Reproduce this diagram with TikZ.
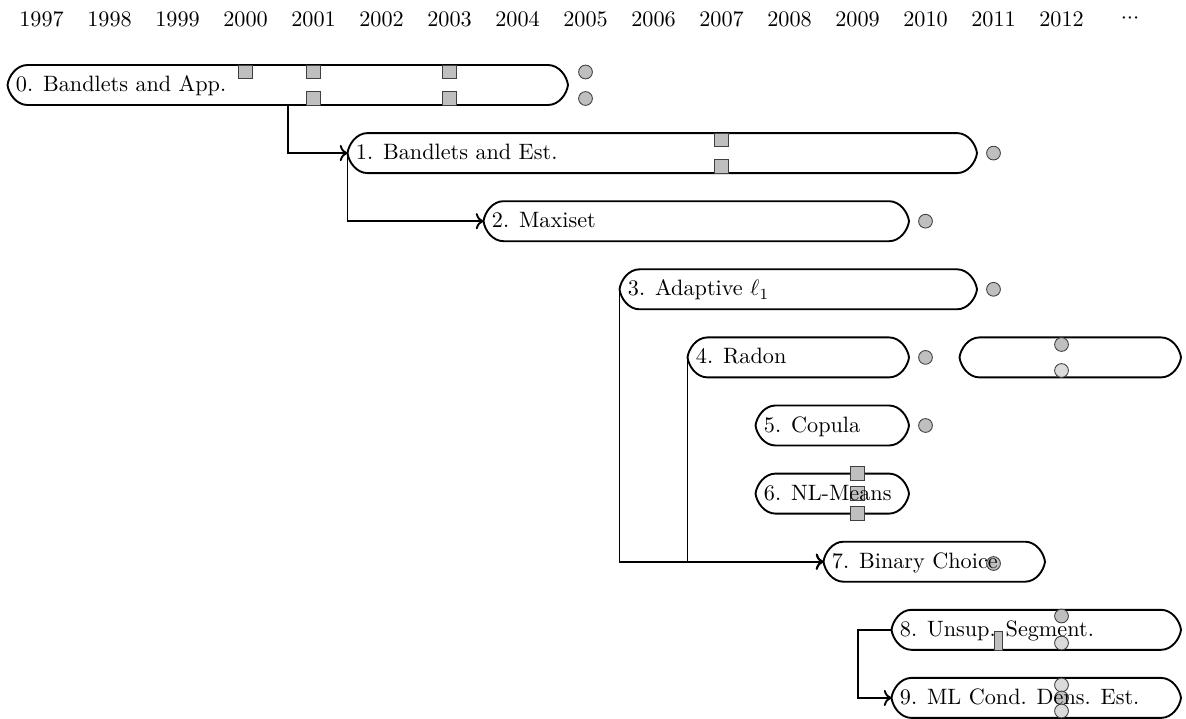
\documentclass[tikz,border=0pt]{standalone}
\usetikzlibrary{arrows.meta}
\newcommand\mkbar[4]{%
  \coordinate (#1w) at (#2,#4);
  \coordinate (#1e) at (#3,#4);
  \draw[barline] (#2+20,#4-20) -- (#3-20,#4-20)
    .. controls +(11,0) and +(-1.2,-9) .. (#3,#4)
    .. controls +(-1.2,9) and +(11,0) .. (#3-20,#4+20)
    -- (#2+20,#4+20)
    .. controls +(-11,0) and +(1.2,9) .. (#2,#4)
    .. controls +(1.2,-9) and +(-11,0) .. (#2+20,#4-20) -- cycle;
}
\begin{document}
\begin{tikzpicture}[x=0.45pt,y=-0.45pt,
  barline/.style={line width=0.85pt, line join=round},
  conn/.style={line width=0.85pt,->},
  sq/.style={rectangle, draw=black!75, fill=gray!50, line width=0.4pt, minimum size=6pt, inner sep=0pt},
  thinrect/.style={rectangle, draw=black!75, fill=gray!50, line width=0.4pt, minimum width=3.6pt, minimum height=8.5pt, inner sep=0pt},
  dot/.style={circle, draw=black!75, fill=gray!50, line width=0.4pt, minimum size=6.2pt, inner sep=0pt},
  ldot/.style={dot, fill=gray!28},
  lbl/.style={anchor=base west, inner sep=0pt},
  yr/.style={anchor=base, inner sep=0pt}]
\useasboundingbox (0,0) rectangle (1186,718);

% years
\foreach \yy [count=\k from 0] in {1997,1998,1999,2000,2001,2002,2003,2004,2005,2006,2007,2008,2009,2010,2011,2012}
  \node[yr] (y\yy) at ({41.5+68*\k},26.5) {\yy};
\node[yr] (ydots) at (1130,26.5) {\raisebox{1.4pt}{${\cdot}{\cdot}{\cdot}$}};

% bars
\mkbar{b0}{7.5}{568}{85}
\mkbar{b1}{347.5}{977}{153.1}
\mkbar{b2}{483.5}{909}{221.2}
\mkbar{b3}{619.5}{977}{289.3}
\mkbar{b4}{687.5}{909}{357.4}
\mkbar{bx}{959.5}{1181}{357.4}
\mkbar{b5}{755.5}{909}{425.5}
\mkbar{b6}{755.5}{909}{493.6}
\mkbar{b7}{823.5}{1045}{561.7}
\mkbar{b8}{891.5}{1181}{629.8}
\mkbar{b9}{891.5}{1181}{697.9}

% connectors
\coordinate (b0a) at (288,105);
\coordinate (j8) at (858,629.8);
\draw[conn] (b0a) |- (b1w);
\draw[conn] (b1w) |- (b2w);
\draw[conn] (b3w) |- (b7w);
\draw[conn] (b4w) |- (b7w);
\draw[conn] (b8w) -- (j8) |- (b9w);

% markers row 0
\node[sq] (s01) at (245.5,72) {};
\node[sq] (s02) at (313.5,72) {};
\node[sq] (s03) at (313.5,98.5) {};
\node[sq] (s04) at (449.5,72) {};
\node[sq] (s05) at (449.5,98.5) {};
\node[dot] (c01) at (585.5,72) {};
\node[dot] (c02) at (585.5,98.5) {};
% row 1
\node[sq] (s11) at (721.5,140) {};
\node[sq] (s12) at (721.5,166.5) {};
\node[dot] (c11) at (993.5,153.1) {};
% rows 2-5
\node[dot] (c21) at (925.5,221.2) {};
\node[dot] (c31) at (993.5,289.3) {};
\node[dot] (c41) at (925.5,357.4) {};
\node[dot] (cx1) at (1061.5,344.5) {};
\node[ldot] (cx2) at (1061.5,370.5) {};
\node[dot] (c51) at (925.5,425.5) {};
% row 6
\node[sq] (s61) at (857.5,473.6) {};
\node[sq] (s62) at (857.5,493.6) {};
\node[sq] (s63) at (857.5,513.6) {};
% row 7
\node[dot] (c71) at (993.5,563.5) {};
% row 8
\node[thinrect] (r81) at (998,640.5) {};
\node[dot] (c81) at (1061.5,616) {};
\node[ldot] (c82) at (1061.5,643) {};
% row 9
\node[ldot] (c91) at (1061.5,685) {};
\node[dot] (c92) at (1061.5,698) {};
\node[ldot] (c93) at (1061.5,711) {};

% labels
\node[lbl] (t0) at (15.5,91.5) {0. Bandlets and App.};
\node[lbl] (t1) at (355.5,159.6) {1. Bandlets and Est.};
\node[lbl] (t2) at (491.5,227.7) {2. Maxiset};
\node[lbl] (t3) at (627.5,295.8) {3. Adaptive $\ell_1$};
\node[lbl] (t4) at (695.5,363.9) {4. Radon};
\node[lbl] (t5) at (763.5,432) {5. Copula};
\node[lbl] (t6) at (763.5,500.1) {6. NL-Means};
\node[lbl] (t7) at (831.5,568.2) {7. Binary Choice};
\node[lbl] (t8) at (899.5,636.3) {8. Unsup. Segment.};
\node[lbl] (t9) at (899.5,704.4) {9. ML Cond. Dens. Est.};
\end{tikzpicture}
\end{document}
